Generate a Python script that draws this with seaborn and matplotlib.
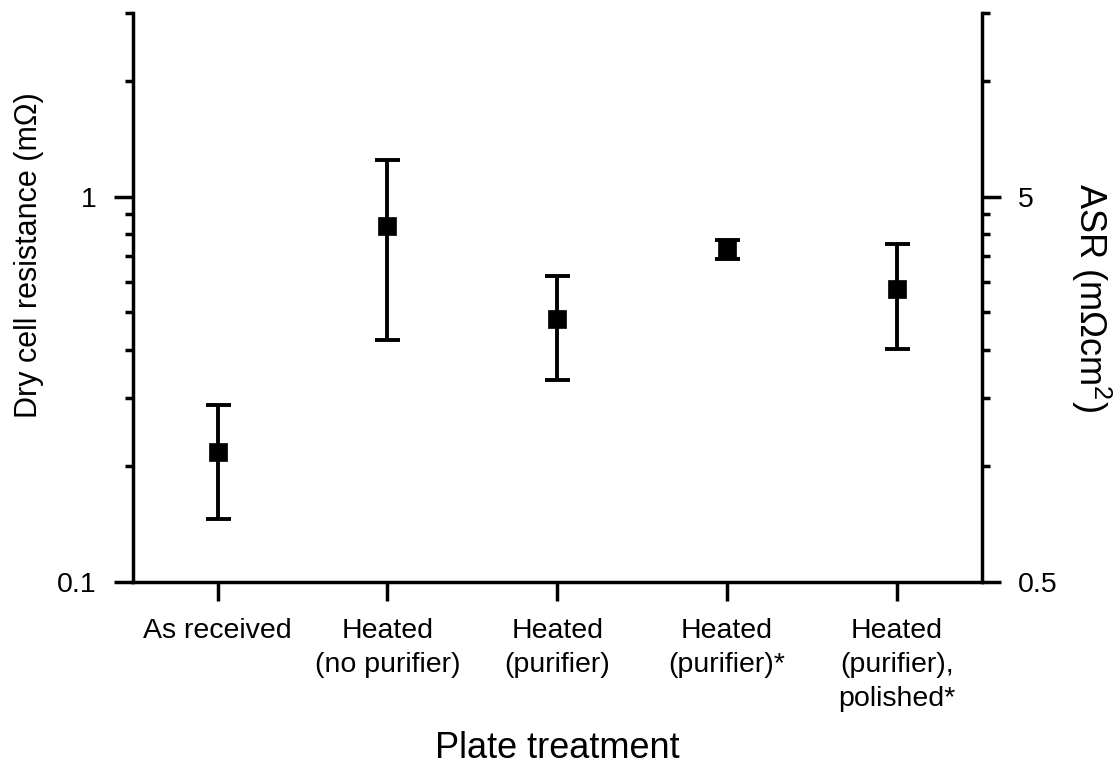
import matplotlib
matplotlib.use("Agg")
import matplotlib.pyplot as plt
from matplotlib.ticker import LogLocator, NullFormatter, FixedLocator
import numpy as np
import pandas as pd
import seaborn as sns

# Plate treatments and measured dry cell resistance (mOhm)
treatments = [
    "As received",
    "Heated\n(no purifier)",
    "Heated\n(purifier)",
    "Heated\n(purifier)*",
    "Heated\n(purifier),\npolished*",
]
resistance = [0.2175, 0.836, 0.4795, 0.727, 0.5763]
resistance_low = [0.1456, 0.4253, 0.3347, 0.687, 0.4008]
resistance_high = [0.2884, 1.243, 0.6215, 0.770, 0.751]

# Active area used to convert resistance to area-specific resistance
ASR_FACTOR = 5.0

left_ticks = [0.1, 1]
left_ticklabels = ["0.1", "1"]
right_ticks = [0.5, 5]
right_ticklabels = ["0.5", "5"]

sns.set_theme(style="ticks")
plt.rcParams["font.family"] = ["Liberation Sans", "DejaVu Sans"]
plt.rcParams["mathtext.default"] = "regular"
plt.rcParams["text.color"] = "black"
plt.rcParams["axes.labelcolor"] = "black"
plt.rcParams["xtick.color"] = "black"
plt.rcParams["ytick.color"] = "black"

df = pd.DataFrame({
    "treatment": treatments,
    "resistance": resistance,
    "low": resistance_low,
    "high": resistance_high,
})

fig = plt.figure(figsize=(11.15, 7.76), dpi=100)
ax = fig.add_axes([0.119, 0.2504, 0.7615, 0.7332])

lw = 2.5
elw = 2.8
yerr = np.vstack([df["resistance"] - df["low"], df["high"] - df["resistance"]])
ax.errorbar(df["treatment"], df["resistance"], yerr=yerr, fmt="none",
            ecolor="black", elinewidth=elw, capsize=9, capthick=elw, zorder=2)
sns.scatterplot(data=df, x="treatment", y="resistance", marker="s", s=165,
                color="black", edgecolor="black", linewidth=0.5, ax=ax, zorder=3)

ax.set_yscale("log")
ax.set_ylim(0.1, 3.0)
ax.set_xlim(-0.5, len(treatments) - 0.5)
ax.set_yticks(left_ticks, labels=left_ticklabels)
ax.yaxis.set_minor_locator(LogLocator(base=10, subs=np.arange(2, 10)))
ax.yaxis.set_minor_formatter(NullFormatter())

ax.set_xlabel("Plate treatment", fontsize=26, labelpad=14)
ax.set_ylabel("Dry cell resistance (mΩ)", fontsize=22)
ax.yaxis.set_label_coords(-0.104, 0.574)

for side in ["left", "bottom"]:
    ax.spines[side].set_linewidth(lw)
    ax.spines[side].set_color("black")
ax.spines["top"].set_visible(False)
ax.spines["right"].set_visible(False)

ax.tick_params(axis="both", which="major", direction="out", length=14,
               width=lw, color="black", labelcolor="black", labelsize=20.5, pad=12)
ax.tick_params(axis="y", which="minor", direction="out", length=6,
               width=lw, color="black")
ax.tick_params(axis="x", which="minor", bottom=False)
for lab in ax.get_xticklabels():
    lab.set_linespacing(1.4)

# Secondary axis: area-specific resistance
ax2 = ax.twinx()
ax2.set_yscale("log")
lo, hi = ax.get_ylim()
ax2.set_ylim(lo * ASR_FACTOR, hi * ASR_FACTOR)
ax2.set_yticks(right_ticks, labels=right_ticklabels)
left_minor = [v for v in ax.yaxis.get_minorticklocs() if lo <= v <= hi * 1.0001]
ax2.yaxis.set_minor_locator(FixedLocator([v * ASR_FACTOR for v in left_minor]))
ax2.yaxis.set_minor_formatter(NullFormatter())
for side in ["left", "bottom", "top"]:
    ax2.spines[side].set_visible(False)
ax2.spines["right"].set_linewidth(lw)
ax2.spines["right"].set_color("black")
ax2.tick_params(axis="y", which="major", direction="out", length=14,
                width=lw, color="black", labelcolor="black", labelsize=20.5, pad=12)
ax2.tick_params(axis="y", which="minor", direction="out", length=6,
                width=lw, color="black")
ax2.set_ylabel("ASR (mΩcm$^{2}$)", fontsize=26, rotation=270, color="black")
ax2.yaxis.set_label_coords(1.155, 0.5)

fig.savefig("out.png", dpi=100, facecolor="white")
